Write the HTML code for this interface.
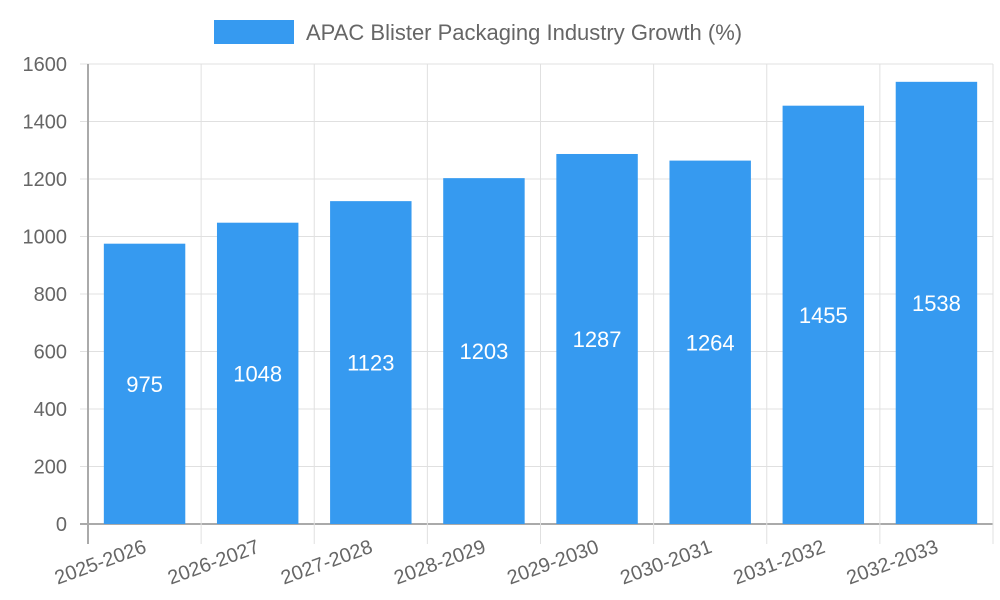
<!DOCTYPE html>
<html><head><meta charset="utf-8"><style>
body{margin:0;background:#fff;}
svg{display:block;font-family:"Liberation Sans",sans-serif;}
</style></head><body>
<svg id="chart" width="1000" height="600">
<g>
<rect x="214" y="20" width="80" height="24" fill="#369af0"/>
<text x="306" y="40" font-size="22" fill="#666">APAC Blister Packaging Industry Growth (%)</text>
</g>
<g id="grid"></g><g id="bars"></g><g id="axes"></g>
</svg>
<script>
const categories=["2025-2026","2026-2027","2027-2028","2028-2029","2029-2030","2030-2031","2031-2032","2032-2033"];
const values=[975,1048,1123,1203,1287,1264,1455,1538];
const yTicks=[0,200,400,600,800,1000,1200,1400,1600];
const L=88,R=993,T=64,B=524,yMax=1600;
const bw=(R-L)/categories.length;
const y=v=>B-(v/yMax)*(B-T);
const xc=i=>L+bw*(i+0.5);
const NS="http://www.w3.org/2000/svg";
function mk(tag,attrs,parent,txt){const e=document.createElementNS(NS,tag);for(const k in attrs)e.setAttribute(k,attrs[k]);if(txt!==undefined)e.textContent=txt;document.getElementById(parent).appendChild(e);return e;}
yTicks.forEach(t=>{
  const l=mk('line',{x1:80,x2:R,y1:y(t),y2:y(t),stroke:t===0?'#aaa':'#e0e0e0','stroke-width':t===0?2:1},'grid');
  
  
  const tx=mk('text',{x:67,y:y(t)+7,'text-anchor':'end','font-size':20,fill:'#666'},'axes',t);
  
  
});
for(let i=0;i<=categories.length;i++){
  const x=L+bw*i;
  const l=mk('line',{x1:x,x2:x,y1:T,y2:544,stroke:i===0?'#aaa':'#e0e0e0','stroke-width':i===0?2:1},'grid');
  
  
}
categories.forEach((c,i)=>{
  const w=bw*0.72;
  const r=mk('rect',{x:xc(i)-w/2,y:y(values[i]),width:w,height:B-y(values[i]),fill:'#369af0'},'bars');
  
  
  const v=mk('text',{x:xc(i),y:(y(values[i])+B)/2+8,'text-anchor':'middle','font-size':22,fill:'#fff'},'bars',values[i]);
  
  
  const t=mk('text',{x:0,y:0,'text-anchor':'end','font-size':20,fill:'#666',transform:`translate(${xc(i)+3},${552}) rotate(-20)`},'axes',c);
  
  
});
</script>
</body></html>
